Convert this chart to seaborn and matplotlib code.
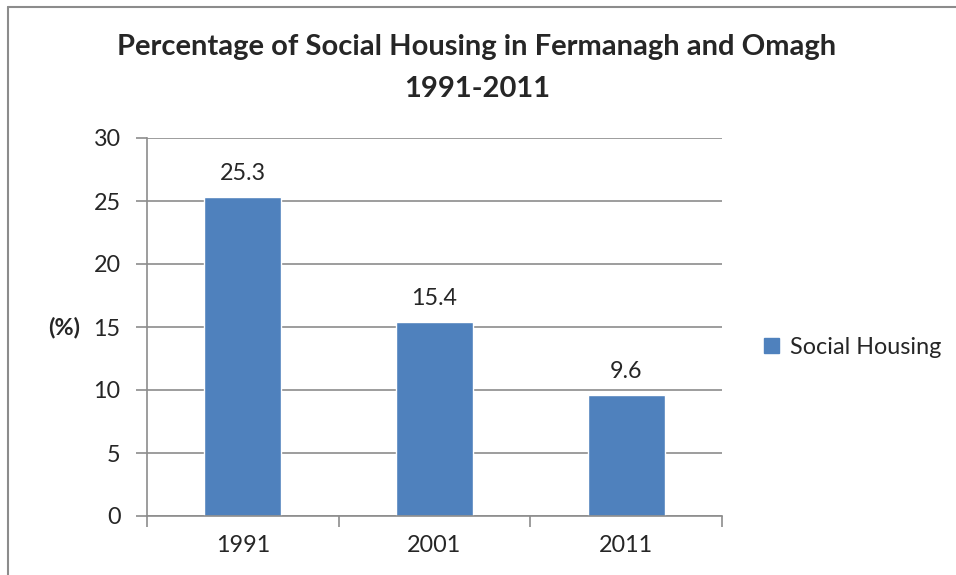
import matplotlib
matplotlib.use("Agg")
import matplotlib.pyplot as plt
import seaborn as sns
import pandas as pd
from matplotlib.lines import Line2D
from matplotlib.patches import Patch

years = ["1991", "2001", "2011"]
values = [25.3, 15.4, 9.6]
series_name = "Social Housing"
y_ticks = [0, 5, 10, 15, 20, 25, 30]

sns.set_style("white")
plt.rcParams['font.family'] = ['Lato', 'DejaVu Sans']

W, H = 956, 575
FS = 16.8
fig = plt.figure(figsize=(W / 100, H / 100), dpi=100)
ax = fig.add_axes([147 / W, 1 - 516 / H, (722 - 147) / W, (516 - 138) / H])

df = pd.DataFrame({"Year": years, "Value": values})
bar_color = "#4F81BD"
sns.barplot(data=df, x="Year", y="Value", color=bar_color, width=0.4, ax=ax,
            saturation=1)

ax.set_xlim(-0.5, 2.5)
ax.set_ylim(0, 30)
ax.set_yticks(y_ticks)
ax.yaxis.grid(True, color="#8C8C8C", linewidth=1.2)
ax.set_axisbelow(True)
for s in ["top", "right"]:
    ax.spines[s].set_visible(False)
for s in ["left", "bottom"]:
    ax.spines[s].set_color("#8C8C8C")
    ax.spines[s].set_linewidth(1.2)

ax.tick_params(axis="y", which="major", length=8, width=1.2, color="#8C8C8C",
               labelsize=FS, pad=11, left=True)
ax.tick_params(axis="x", which="major", length=0, labelsize=FS, pad=14)
ax.set_xticks([-0.5, 0.5, 1.5, 2.5], minor=True)
ax.tick_params(axis="x", which="minor", length=8, width=1.2, color="#8C8C8C",
               bottom=True)
ax.set_xlabel("")
ax.set_ylabel("")
fig.text(64.5 / W, 1 - 327 / H, "(%)", ha="center", va="center",
         fontsize=FS, fontweight="bold")

for c in ax.containers:
    ax.bar_label(c, labels=[f"{v}" for v in values], padding=9.5, fontsize=FS)

fig.text(477 / W, 1 - 47 / H, "Percentage of Social Housing in Fermanagh and Omagh",
         ha="center", va="center", fontsize=21, fontweight="bold")
fig.text(477 / W, 1 - 89 / H, "1991-2011",
         ha="center", va="center", fontsize=21, fontweight="bold")

handles = [Patch(facecolor=bar_color, edgecolor=bar_color)]
fig.legend(handles, [series_name], loc="center left",
           bbox_to_anchor=(757 / W, 1 - 347 / H), frameon=False, fontsize=FS,
           handlelength=0.65, handleheight=0.65, handletextpad=0.45,
           borderaxespad=0, borderpad=0.3)

# outer chart border (partially cropped)
fig.add_artist(Line2D([8 / W, 1], [1 - 7 / H, 1 - 7 / H], color="#8C8C8C",
                      linewidth=1.5, transform=fig.transFigure))
fig.add_artist(Line2D([8 / W, 8 / W], [0, 1 - 7 / H], color="#8C8C8C",
                      linewidth=1.5, transform=fig.transFigure))

fig.savefig("out.png", dpi=100)
